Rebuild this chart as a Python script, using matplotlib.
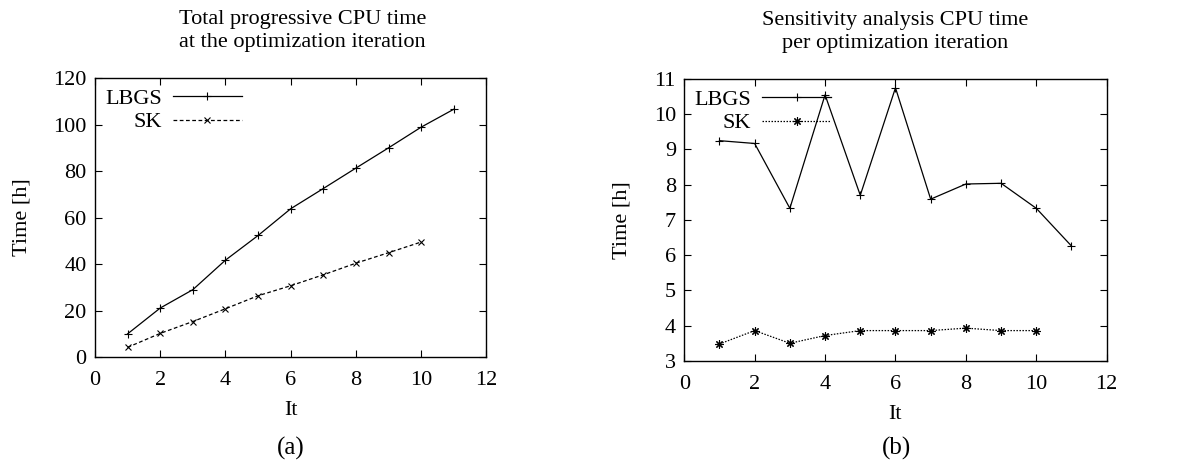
import matplotlib
matplotlib.use("Agg")
import matplotlib.pyplot as plt

plt.rcParams['font.family'] = ['Liberation Serif', 'DejaVu Serif']
plt.rcParams['font.size'] = 16

# data
it_lbgs = [1, 2, 3, 4, 5, 6, 7, 8, 9, 10, 11]
it_sk = [1, 2, 3, 4, 5, 6, 7, 8, 9, 10]

total_lbgs = [10.0, 21.1, 29.0, 41.7, 52.3, 63.8, 72.5, 81.3, 90.0, 98.9, 106.6]
total_sk = [4.2, 10.2, 15.3, 20.8, 26.4, 30.7, 35.4, 40.4, 44.9, 49.5]

sens_lbgs = [9.25, 9.17, 7.33, 10.55, 7.70, 10.75, 7.59, 8.02, 8.04, 7.33, 6.26]
sens_sk = [3.48, 3.86, 3.50, 3.72, 3.86, 3.86, 3.86, 3.93, 3.86, 3.86]

fig = plt.figure(figsize=(11.9, 4.73), dpi=100)
ax1 = fig.add_axes([0.0798, 0.245, 0.329, 0.590])
ax2 = fig.add_axes([0.575, 0.237, 0.355, 0.596])


def style_axes(ax):
    ax.tick_params(direction='in', top=True, right=True, length=5, width=0.8)
    ax.tick_params(axis='x', pad=10)
    ax.tick_params(axis='y', pad=6)
    for s in ax.spines.values():
        s.set_linewidth(1.0)
    ax.set_xlim(0, 12)
    ax.set_xticks(range(0, 13, 2))
    ax.set_xlabel('It', labelpad=8)
    ax.set_ylabel('Time [h]', labelpad=16)


def add_key(ax):
    ax.legend(loc='upper left', markerfirst=False, frameon=False, handlelength=3.1,
              handletextpad=0.5, labelspacing=0.15, borderaxespad=0.15, borderpad=0.3,
              numpoints=1)


# (a) total progressive time
ax1.plot(it_lbgs, total_lbgs, color='black', lw=0.9, marker='+', ms=6, mew=0.8, label='LBGS')
ax1.plot(it_sk, total_sk, color='black', lw=0.9, ls=(0, (3, 2)), marker='x', ms=5, mew=0.8, label='SK')
style_axes(ax1)
ax1.set_ylim(0, 120)
ax1.set_yticks(range(0, 121, 20))
ax1.set_title('Total progressive CPU time\nat the optimization iteration', fontsize=16,
              pad=22, linespacing=1.3, x=0.53)
add_key(ax1)

# (b) sensitivity analysis time
ax2.plot(it_lbgs, sens_lbgs, color='black', lw=0.9, marker='+', ms=6, mew=0.8, label='LBGS')
ax2.plot(it_sk, sens_sk, color='black', lw=0.9, ls=(0, (1.2, 1.2)), marker=(8, 2, 0), ms=6, mew=0.8, label='SK')
style_axes(ax2)
ax2.set_ylim(3, 11)
ax2.set_yticks(range(3, 12))
ax2.set_title('Sensitivity analysis CPU time\nper optimization iteration', fontsize=16,
              pad=22, linespacing=1.3)
add_key(ax2)

fig.text(0.244, 0.052, '(a)', ha='center', va='center', fontsize=18)
fig.text(0.753, 0.052, '(b)', ha='center', va='center', fontsize=18)

fig.savefig('out.png', dpi=100)
